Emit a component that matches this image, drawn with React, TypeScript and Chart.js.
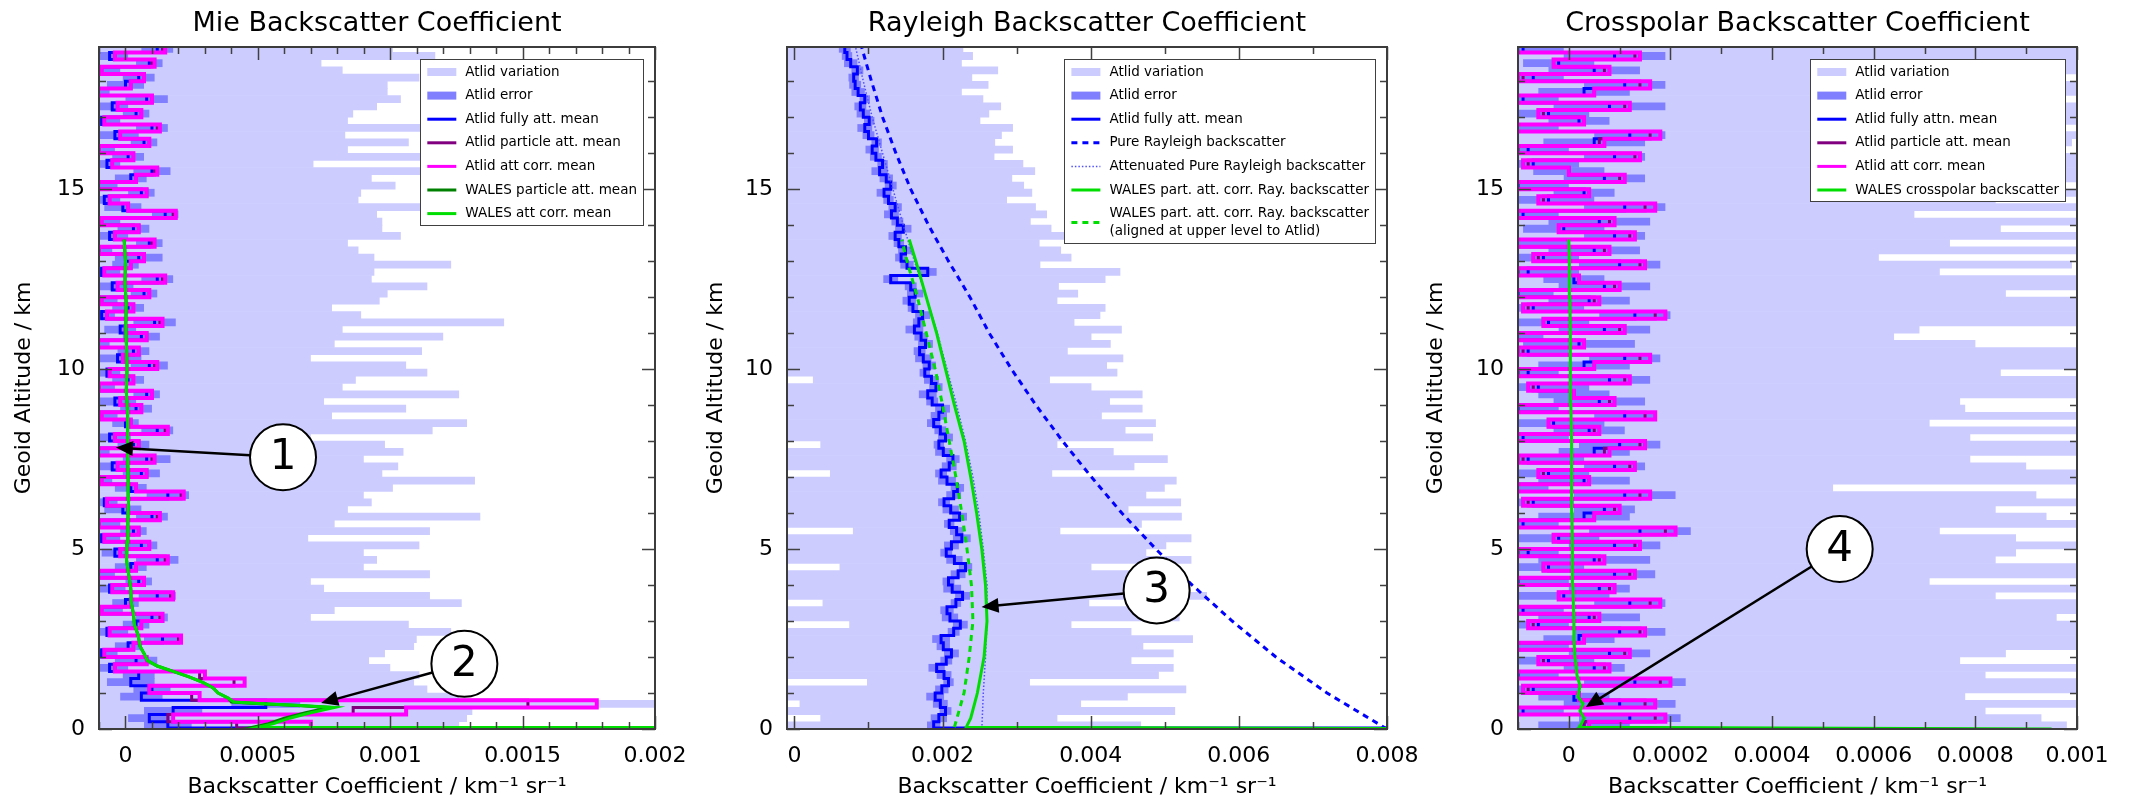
import React, { useEffect, useRef } from "react";
import { Chart, registerables } from "chart.js";

Chart.register(...registerables);

const FONT = "DejaVu Sans";
const W = 2130;
const H = 811;
const PLOT_BOTTOM = 729;

// ---------------- altitude grid (km) ----------------
const BIN_KM = 0.2;
const ALT_TOP = 19;
const Y_MAX = 18.95;
const FLOOR_ALT = 0.03;
const ALT_BINS = Array.from({ length: 95 }, (_, i) => Math.round(i * BIN_KM * 100) / 100);
const Y_TICKS = [0, 5, 10, 15];

// ---------------- Mie panel (values in 1e-4 km^-1 sr^-1) ----------------
const MIE_UNIT = 1e-4;
const MIE_X_TICKS = [0, 0.0005, 0.001, 0.0015, 0.002];
const MIE_FULL = [
  1.6, 0.9, 1.8, 5.3, 0.6, 1.0, 0.2, 0.5, -0.6, 0.4,
  -0.9, 0.1, 1.4, -0.7, 0.4, 1.0, -1.0, 0.0, 1.2, -0.6,
  0.5, -1.1, 0.2, 1.2, -0.4, 0.6, -0.9, 0.3, -1.1, 1.0,
  -0.1, -0.8, 1.6, 0.2, -1.0, 0.6, -0.5, 0.8, -1.1, 0.3,
  -0.6, 1.2, 0.0, -1.0, 0.4, -0.4, 0.8, -1.1, 0.1, -0.7,
  0.9, -0.3, 0.3, -1.1, 0.6, -0.2, 1.1, -0.9, 0.1, -1.0,
  0.7, -0.5, 1.2, -0.9, 0.0, 0.5, -1.1, 0.9, -0.6, 0.3,
  -1.0, 1.5, -0.1, -0.8, 0.6, -1.1, 0.2, 1.0, -0.7, 0.1,
  -1.1, 0.7, -0.4, 1.0, -0.9, 0.4, -0.5, 0.8, -1.1, 0.0,
  0.5, -1.0, 0.9, -0.6, 1.2,
];
const MIE_PART = [
  4.2, 1.6, 8.6, 15.2, 2.5, 0.9, 4.1, 2.8, -0.4, 0.8,
  -0.8, 0.3, 2.0, -0.6, 0.6, 1.3, -0.9, 0.2, 1.7, -0.5,
  0.7, -1.1, 0.4, 1.5, -0.2, 0.9, -0.8, 0.5, -1.0, 1.2,
  0.1, -0.7, 2.1, 0.4, -0.9, 0.8, -0.3, 1.0, -1.1, 0.5,
  -0.4, 1.5, 0.2, -0.9, 0.6, -0.2, 1.0, -1.0, 0.3, -0.6,
  1.1, -0.1, 0.5, -1.1, 0.8, 0.0, 1.3, -0.7, 0.3, -0.9,
  0.9, -0.3, 1.4, -0.8, 0.2, 0.7, -1.0, 1.0, -0.4, 0.5,
  -0.9, 1.8, 0.1, -0.6, 0.8, -1.1, 0.4, 1.1, -0.5, 0.3,
  -1.0, 0.9, -0.2, 1.2, -0.8, 0.6, -0.3, 1.0, -1.1, 0.2,
  0.7, -0.9, 1.0, -0.4, 1.4,
];
const MIE_CORR = [
  7.0, 1.8, 10.6, 17.8, 2.8, 0.9, 4.5, 3.0, -0.4, 0.8,
  -0.8, 0.3, 2.1, -0.6, 0.6, 1.4, -0.9, 0.2, 1.8, -0.5,
  0.7, -1.1, 0.4, 1.6, -0.2, 0.9, -0.8, 0.5, -1.0, 1.3,
  0.1, -0.7, 2.2, 0.4, -0.9, 0.8, -0.3, 1.1, -1.1, 0.5,
  -0.4, 1.6, 0.2, -0.9, 0.6, -0.2, 1.0, -1.0, 0.3, -0.6,
  1.2, -0.1, 0.5, -1.1, 0.8, 0.0, 1.4, -0.7, 0.3, -0.9,
  0.9, -0.3, 1.5, -0.8, 0.2, 0.7, -1.0, 1.1, -0.4, 0.5,
  -0.9, 1.9, 0.1, -0.6, 0.8, -1.1, 0.4, 1.2, -0.5, 0.3,
  -1.0, 0.9, -0.2, 1.3, -0.8, 0.6, -0.3, 1.0, -1.1, 0.2,
  0.7, -0.9, 1.1, -0.4, 1.5,
];
const MIE_VAR = [
  11.0, 12.0, 11.3, 20.0, 12.0, 10.4, 10.7, 10.6, 10.6, 8.8,
  10.7, 10.8, 9.6, 13.0, 10.3, 6.0, 8.9, 12.7, 10.3, 8.1,
  6.5, 12.6, 8.8, 8.3, 9.4, 10.5, 7.8, 11.2, 9.0, 12.4,
  8.5, 10.1, 7.4, 9.9, 14.2, 9.1, 10.8, 8.2, 11.6, 9.5,
  7.6, 10.4, 12.9, 8.8, 10.2, 7.9, 11.8, 9.3, 8.6, 12.1,
  9.7, 7.3, 10.9, 9.0, 11.4, 8.4, 13.2, 9.8, 7.7, 10.6,
  9.2, 11.9, 8.1, 10.3, 12.3, 8.9, 9.9, 7.5, 11.0, 9.4,
  10.7, 8.0, 12.6, 9.6, 8.3, 11.3, 9.1, 10.2, 7.8, 12.8,
  9.5, 10.0, 8.7, 11.5, 9.3, 8.2, 10.0, 9.6, 11.0, 9.9,
  10.6, 9.2, 6.5, 12.3, 8.9,
];
const MIE_ERR = [
  0.9, 0.8, 1.1, 1.3, 0.8, 0.7, 0.9, 0.6, 0.7, 0.8,
  0.6, 0.5, 0.7, 0.8, 0.5, 0.6, 0.9, 0.5, 0.7, 0.6,
  0.5, 0.7, 0.6, 0.8, 0.5, 0.6, 0.7, 0.5, 0.9, 0.6,
  0.7, 0.5, 0.8, 0.6, 0.5, 0.7, 0.6, 0.9, 0.5, 0.6,
  0.8, 0.6, 0.5, 0.7, 0.6, 0.8, 0.5, 0.7, 0.6, 0.5,
  0.7, 0.9, 0.6, 0.5, 0.7, 0.6, 0.8, 0.5, 0.6, 0.7,
  0.5, 0.8, 0.6, 0.7, 0.5, 0.9, 0.6, 0.5, 0.7, 0.6,
  0.8, 0.5, 0.7, 0.6, 0.5, 0.8, 0.6, 0.7, 0.5, 0.6,
  0.7, 0.5, 0.9, 0.6, 0.7, 0.5, 0.6, 0.8, 0.5, 0.7,
  0.6, 0.8, 0.5, 0.7, 0.6,
];
const MIE_FLOOR = 100;
const MIE_WALES_ALT = [
  0, 0.05, 0.15, 0.3, 0.45, 0.6, 0.65, 0.7, 0.75, 0.85,
  1.0, 1.15, 1.3, 1.45, 1.6, 1.75, 1.9, 2.1, 2.3, 2.6,
  2.9, 3.2, 3.5, 3.9, 4.3, 4.7, 5.2, 5.8, 6.4, 7.0,
  7.6, 8.2, 8.8, 9.4, 10.0, 10.6, 11.2, 11.8, 12.4, 13.0, 13.6,
];
const MIE_WALES_CORR = [
  100, 5.0, 5.6, 6.2, 7.0, 7.9, 6.6, 5.2, 4.1, 3.9,
  3.5, 3.3, 2.9, 2.4, 1.8, 1.2, 0.83, 0.7, 0.55, 0.48,
  0.34, 0.3, 0.22, 0.2, 0.12, 0.04, 0.06, 0.09, 0.12, 0.1,
  0.08, 0.09, 0.07, 0.03, 0.06, 0.04, 0.01, 0.03, -0.02, 0.0, -0.05,
];
const MIE_WALES_PART = [
  100, 4.8, 5.4, 6.0, 6.8, 7.7, 6.5, 5.1, 4.0, 3.9,
  3.5, 3.3, 2.9, 2.4, 1.8, 1.2, 0.83, 0.7, 0.55, 0.48,
  0.34, 0.3, 0.22, 0.2, 0.12, 0.04, 0.06, 0.09, 0.12, 0.1,
  0.08, 0.09, 0.07, 0.03, 0.06, 0.04, 0.01, 0.03, -0.02, 0.0, -0.05,
];

// ---------------- Rayleigh panel (values in 1e-3 km^-1 sr^-1) ----------------
const RAY_UNIT = 1e-3;
const RAY_X_TICKS = [0, 0.002, 0.004, 0.006, 0.008];
const RAY_FULL = [
  1.88, 1.95, 2.04, 1.97, 1.90, 1.99, 2.08, 2.02, 1.92, 2.05,
  2.12, 2.01, 1.98, 2.15, 2.24, 2.10, 2.06, 2.18, 2.27, 2.13,
  2.08, 2.21, 2.31, 2.16, 2.05, 2.12, 2.26, 2.19, 2.09, 2.23,
  2.11, 2.02, 2.15, 2.20, 2.06, 1.98, 2.09, 2.14, 2.01, 1.95,
  2.04, 1.97, 1.88, 1.95, 2.00, 1.86, 1.80, 1.91, 1.85, 1.76,
  1.82, 1.74, 1.69, 1.77, 1.71, 1.62, 1.68, 1.73, 1.60, 1.55,
  1.63, 1.57, 1.30, 1.80, 1.52, 1.44, 1.50, 1.41, 1.36, 1.47,
  1.39, 1.31, 1.36, 1.27, 1.21, 1.30, 1.24, 1.15, 1.19, 1.10,
  1.05, 1.11, 1.00, 0.95, 1.01, 0.93, 0.89, 0.95, 0.86, 0.82,
  0.80, 0.85, 0.76, 0.71, 0.68,
];
const RAY_VAR = [
  2.8, 1.6, 3.1, 1.9, 2.6, 3.3, 1.1, 2.9, 3.2, 2.5,
  3.0, 2.7, 3.4, 2.4, 1.5, 3.1, 2.6, 1.8, 3.3, 2.8,
  2.5, 3.0, 1.7, 3.2, 2.7, 2.9, 3.1, 1.4, 2.6, 3.0,
  2.4, 3.2, 2.6, 2.8, 3.1, 1.5, 2.5, 2.9, 2.3, 1.6,
  2.8, 2.5, 3.0, 2.2, 2.7, 2.4, 2.9, 2.1, 1.6, 2.6,
  2.4, 2.7, 2.0, 2.5, 2.3, 2.8, 2.1, 2.4, 2.6, 2.0,
  2.2, 2.0, 2.9, 2.6, 1.8, 2.3, 2.1, 1.9, 2.4, 2.0,
  1.8, 2.1, 1.9, 1.6, 2.0, 1.8, 1.7, 2.1, 1.9, 1.6,
  1.9, 1.6, 1.8, 2.0, 1.5, 1.7, 1.9, 1.6, 1.4, 1.8,
  1.6, 1.9, 1.5, 1.7, 1.6,
];
const RAY_ERR = [
  0.09, 0.11, 0.08, 0.10, 0.12, 0.09, 0.07, 0.10, 0.11, 0.08,
  0.10, 0.09, 0.12, 0.08, 0.10, 0.11, 0.09, 0.07, 0.10, 0.12,
  0.08, 0.10, 0.09, 0.11, 0.08, 0.10, 0.12, 0.09, 0.07, 0.10,
  0.11, 0.08, 0.10, 0.09, 0.12, 0.08, 0.10, 0.09, 0.11, 0.07,
  0.10, 0.08, 0.09, 0.11, 0.10, 0.08, 0.12, 0.09, 0.10, 0.07,
  0.09, 0.11, 0.08, 0.10, 0.09, 0.12, 0.08, 0.10, 0.07, 0.09,
  0.11, 0.08, 0.10, 0.12, 0.09, 0.08, 0.10, 0.07, 0.09, 0.11,
  0.08, 0.10, 0.09, 0.07, 0.10, 0.08, 0.09, 0.11, 0.07, 0.08,
  0.09, 0.07, 0.08, 0.10, 0.07, 0.09, 0.08, 0.07, 0.09, 0.08,
  0.07, 0.08, 0.09, 0.07, 0.08,
];
const RAY_FLOOR = 10;
const RAY_KM = [0, 1, 2, 3, 4, 5, 6, 7, 8, 9, 10, 11, 12, 13, 14, 15, 16, 17, 18, 19];
const RAY_PURE = [8.0, 7.19, 6.5, 5.91, 5.37, 4.88, 4.42, 4.01, 3.62, 3.26, 2.93, 2.63, 2.37, 2.08, 1.81, 1.57, 1.37, 1.19, 1.04, 0.9];
const RAY_ATT = [2.53, 2.55, 2.58, 2.6, 2.6, 2.55, 2.49, 2.41, 2.31, 2.19, 2.06, 1.93, 1.78, 1.62, 1.47, 1.33, 1.19, 1.05, 0.93, 0.82];
const WALES_RAY_ALT = [0, 0.05, 0.3, 1, 2, 3, 4, 5, 6, 7, 8, 9, 10, 11, 12, 13, 13.6];
const WALES_RAY = [10, 2.32, 2.38, 2.47, 2.56, 2.6, 2.58, 2.53, 2.46, 2.38, 2.29, 2.16, 2.04, 1.92, 1.78, 1.64, 1.55];
const WALES_RAY_ALIGNED_ALT = [0.05, 1, 2, 3, 4, 5, 6, 7, 8, 9, 10, 11, 12, 13, 13.6];
const WALES_RAY_ALIGNED = [2.16, 2.29, 2.36, 2.41, 2.39, 2.33, 2.26, 2.18, 2.09, 2.0, 1.9, 1.78, 1.66, 1.52, 1.45];

// ---------------- Crosspolar panel (values in 1e-4 km^-1 sr^-1) ----------------
const XP_UNIT = 1e-4;
const XP_X_TICKS = [0, 0.0002, 0.0004, 0.0006, 0.0008, 0.001];
const XP_FULL = [
  0.3, 1.2, -0.9, 1.0, 0.1, -0.7, 1.3, -1.0, 0.5, -0.4,
  0.8, -1.1, 0.2, 1.0, -0.6, 0.4, -0.9, 1.2, -0.1, 0.6,
  -1.0, 0.9, -0.4, 0.5, -0.8, 0.9, -0.2, 1.4, -0.9, 0.3,
  0.7, -0.7, 1.1, -1.1, 0.3, -0.4, 0.9, -0.8, 0.5, 1.0,
  -0.9, 0.4, -0.3, 1.1, -1.0, 0.6, 0.1, -0.6, 0.8, -0.8,
  0.3, 1.1, -0.8, 0.2, -1.1, 0.7, -0.4, 1.3, -0.7, 0.4,
  -1.0, 0.7, 0.1, -0.8, 1.0, -0.5, 0.5, -1.1, 0.9, -0.1,
  0.6, -0.9, 1.1, -0.4, 0.3, -1.0, 0.7, 0.0, -0.7, 0.9,
  -0.8, 0.5, 1.2, -1.1, 0.2, -0.4, 0.8, -0.9, 0.3, 1.1,
  -0.7, 0.5, -0.2, 0.9, -0.9,
];
const XP_PART = [
  0.3, 1.7, -1.1, 1.5, 0.2, -0.8, 1.8, -1.2, 0.7, -0.5,
  1.1, -1.3, 0.3, 1.4, -0.7, 0.5, -1.1, 1.6, -0.2, 0.8,
  -1.2, 1.2, -0.5, 0.6, -1.0, 1.3, -0.3, 1.9, -1.1, 0.5,
  0.9, -0.8, 1.4, -1.3, 0.4, -0.5, 1.2, -0.9, 0.7, 1.4,
  -1.1, 0.5, -0.4, 1.5, -1.2, 0.8, 0.1, -0.7, 1.1, -1.0,
  0.5, 1.4, -0.9, 0.3, -1.3, 1.0, -0.5, 1.7, -0.8, 0.5,
  -1.2, 0.9, 0.2, -1.0, 1.4, -0.6, 0.7, -1.3, 1.2, -0.2,
  0.8, -1.1, 1.5, -0.5, 0.4, -1.2, 1.0, 0.0, -0.8, 1.3,
  -1.0, 0.6, 1.6, -1.3, 0.3, -0.5, 1.1, -1.1, 0.5, 1.4,
  -0.9, 0.7, -0.3, 1.3, -1.1,
];
const XP_CORR = [
  0.4, 1.9, -1.2, 1.7, 0.2, -0.9, 2.0, -1.3, 0.8, -0.6,
  1.2, -1.4, 0.3, 1.5, -0.8, 0.6, -1.2, 1.8, -0.2, 0.9,
  -1.3, 1.3, -0.5, 0.7, -1.1, 1.4, -0.3, 2.1, -1.2, 0.5,
  1.0, -0.9, 1.6, -1.4, 0.4, -0.6, 1.3, -1.0, 0.8, 1.5,
  -1.2, 0.6, -0.4, 1.7, -1.3, 0.9, 0.1, -0.8, 1.2, -1.1,
  0.5, 1.6, -1.0, 0.3, -1.4, 1.1, -0.5, 1.9, -0.9, 0.6,
  -1.3, 1.0, 0.2, -1.1, 1.5, -0.7, 0.8, -1.4, 1.3, -0.2,
  0.9, -1.2, 1.7, -0.6, 0.4, -1.3, 1.1, 0.0, -0.9, 1.4,
  -1.1, 0.7, 1.8, -1.4, 0.3, -0.6, 1.2, -1.2, 0.5, 1.6,
  -1.0, 0.8, -0.3, 1.4, -1.2,
];
const XP_VAR = [
  9.5, 8.1, 9.1, 9.2, 7.7, 12.5, 9.4, 9.2, 12.5, 8.1,
  7.8, 12.5, 12.5, 10.6, 12.5, 9.2, 12.5, 9.2, 8.5, 12.5,
  8.1, 12.5, 10.5, 7.9, 9.6, 12.5, 9.0, 5.9, 12.5, 9.1,
  7.7, 12.5, 8.1, 6.3, 12.5, 10.4, 8.1, 8.7, 9.5, 12.5,
  8.8, 12.5, 7.4, 12.5, 8.8, 7.1, 12.5, 10.6, 12.5, 9.3,
  12.5, 10.7, 12.5, 7.8, 7.5, 6.2, 12.5, 10.5, 12.5, 12.5,
  9.6, 12.5, 12.5, 8.1, 8.9, 6.6, 12.5, 8.6, 12.5, 8.6,
  12.5, 7.7, 9.9, 8.8, 12.5, 10.5, 9.6, 12.5, 12.5, 9.5,
  9.7, 9.4, 12.5, 9.6, 12.5, 12.5, 10.6, 9.7, 12.5, 9.5,
  9.6, 12.5, 12.5, 12.5, 12.5,
];
const XP_ERR = [
  0.9, 1.0, 0.8, 1.1, 0.7, 0.9, 1.0, 0.8, 0.6, 0.9,
  0.8, 1.1, 0.7, 0.9, 0.6, 1.0, 0.8, 0.7, 0.9, 0.6,
  1.0, 0.8, 0.7, 1.1, 0.6, 0.9, 0.8, 1.0, 0.7, 0.9,
  0.6, 0.8, 1.0, 0.7, 0.9, 0.8, 0.6, 1.1, 0.7, 0.8,
  0.9, 0.7, 1.0, 0.6, 0.8, 0.9, 0.7, 1.0, 0.8, 0.6,
  0.9, 0.7, 0.8, 1.1, 0.6, 0.9, 0.8, 0.7, 1.0, 0.8,
  0.7, 0.9, 0.6, 1.0, 0.8, 0.7, 0.9, 1.1, 0.6, 0.8,
  1.0, 0.7, 0.8, 0.9, 0.6, 1.0, 0.8, 0.7, 0.9, 0.6,
  0.8, 1.0, 0.7, 0.9, 0.6, 0.8, 1.1, 0.7, 0.9, 0.8,
  0.6, 0.9, 0.7, 1.0, 0.8,
];
const XP_WALES_ALT = [0, 0.05, 0.15, 0.3, 0.5, 0.7, 0.9, 1.2, 1.5, 1.8, 2.0, 2.5, 3.0, 4.0, 5.0, 6.0, 7.0, 8.0, 9.0, 10.0, 11.0, 12.0, 13.0, 13.6];
const XP_WALES = [9.5, 0.2, 0.25, 0.3, 0.22, 0.28, 0.18, 0.22, 0.16, 0.14, 0.12, 0.1, 0.1, 0.08, 0.07, 0.06, 0.06, 0.05, 0.04, 0.03, 0.03, 0.02, 0.01, 0.0];

// ---------------- text ----------------
const X_TITLE = "Backscatter Coefficient / km\u207B\u00B9 sr\u207B\u00B9";
const Y_TITLE = "Geoid Altitude / km";

// ---------------- styles ----------------
const C_VAR = "#ccccff";
const C_ERR = "#8080ff";
const C_BLUE = "#0000ff";
const C_PURPLE = "#800080";
const C_MAGENTA = "#ff00ff";
const C_DGREEN = "#008000";
const C_GREEN = "#00dd00";

// ---------------- dataset builders ----------------
function bandBars(label: string, center: number[], half: number[], unit: number, color: string) {
  return {
    type: "bar",
    label,
    data: center.map((c, i) => ({ y: ALT_BINS[i] + BIN_KM / 2, x: [(c - half[i]) * unit, (c + half[i]) * unit] })),
    backgroundColor: color,
    borderWidth: 0,
    inflateAmount: 0,
    grouped: false,
    categoryPercentage: 1,
    barPercentage: 1.08,
  };
}

function stepLine(label: string, values: number[], unit: number, floor: number | null, color: string, width: number) {
  const pts: { x: number; y: number }[] = [];
  if (floor !== null) pts.push({ x: floor * unit, y: 0 });
  values.forEach((v, i) => pts.push({ x: v * unit, y: i === 0 && floor !== null ? FLOOR_ALT : ALT_BINS[i] }));
  pts.push({ x: values[values.length - 1] * unit, y: ALT_TOP });
  return {
    type: "line",
    label,
    data: pts,
    borderColor: color,
    backgroundColor: color,
    borderWidth: width,
    pointRadius: 0,
    stepped: "after",
    borderJoinStyle: "miter",
    fill: false,
  };
}

function curve(label: string, alts: number[], values: number[], unit: number, color: string, width: number, dash: number[] = []) {
  return {
    type: "line",
    label,
    data: alts.map((a, i) => ({ x: values[i] * unit, y: a })),
    borderColor: color,
    backgroundColor: color,
    borderWidth: width,
    borderDash: dash,
    pointRadius: 0,
    tension: 0,
    fill: false,
  };
}

type Note = { text: string; x: number; y: number; tipX: number; tipY: number };

type PanelSpec = {
  title: string;
  xMin: number;
  xMax: number;
  xTicks: number[];
  xMinorStep: number;
  xMajorStep: number;
  boxLeft: number;
  yAxisWidth: number;
  plotRight: number;
  yTitlePad: number;
  datasets: any[];
  legend: string[];
  notes: Note[];
};

const PANELS: PanelSpec[] = [
  {
    title: "Mie Backscatter Coefficient",
    xMin: -0.0001,
    xMax: 0.002,
    xTicks: MIE_X_TICKS,
    xMinorStep: 0.0001,
    xMajorStep: 0.0005,
    boxLeft: 0,
    yAxisWidth: 99,
    plotRight: 655,
    yTitlePad: 10.8,
    datasets: [
      curve("WALES att corr. mean", MIE_WALES_ALT, MIE_WALES_CORR, MIE_UNIT, C_GREEN, 3),
      curve("WALES particle att. mean", MIE_WALES_ALT, MIE_WALES_PART, MIE_UNIT, C_DGREEN, 3),
      stepLine("Atlid att corr. mean", MIE_CORR, MIE_UNIT, MIE_FLOOR, C_MAGENTA, 4),
      stepLine("Atlid particle att. mean", MIE_PART, MIE_UNIT, MIE_FLOOR, C_PURPLE, 3),
      stepLine("Atlid fully att. mean", MIE_FULL, MIE_UNIT, MIE_FLOOR, C_BLUE, 3),
      bandBars("Atlid error", MIE_FULL, MIE_ERR, MIE_UNIT, C_ERR),
      bandBars("Atlid variation", MIE_FULL, MIE_VAR, MIE_UNIT, C_VAR),
    ],
    legend: [
      "Atlid variation",
      "Atlid error",
      "Atlid fully att. mean",
      "Atlid particle att. mean",
      "Atlid att corr. mean",
      "WALES particle att. mean",
      "WALES att corr. mean",
    ],
    notes: [
      { text: "1", x: 0.000595, y: 7.55, tipX: -0.000036, tipY: 7.82 },
      { text: "2", x: 0.00128, y: 1.81, tipX: 0.000739, tipY: 0.72 },
    ],
  },
  {
    title: "Rayleigh Backscatter Coefficient",
    xMin: -0.0001,
    xMax: 0.008,
    xTicks: RAY_X_TICKS,
    xMinorStep: 0.001,
    xMajorStep: 0.002,
    boxLeft: 690,
    yAxisWidth: 97,
    plotRight: 1387,
    yTitlePad: 12.8,
    datasets: [
      curve("WALES part. att. corr. Ray. backscatter", WALES_RAY_ALT, WALES_RAY, RAY_UNIT, C_GREEN, 3),
      curve("WALES part. att. corr. Ray. backscatter\n(aligned at upper level to Atlid)", WALES_RAY_ALIGNED_ALT, WALES_RAY_ALIGNED, RAY_UNIT, C_GREEN, 3, [6, 5]),
      curve("Attenuated Pure Rayleigh backscatter", RAY_KM, RAY_ATT, RAY_UNIT, "#5050ff", 1.5, [1.5, 2]),
      curve("Pure Rayleigh backscatter", RAY_KM, RAY_PURE, RAY_UNIT, C_BLUE, 3, [6, 5]),
      stepLine("Atlid fully att. mean", RAY_FULL, RAY_UNIT, RAY_FLOOR, C_BLUE, 3),
      bandBars("Atlid error", RAY_FULL, RAY_ERR, RAY_UNIT, C_ERR),
      bandBars("Atlid variation", RAY_FULL, RAY_VAR, RAY_UNIT, C_VAR),
    ],
    legend: [
      "Atlid variation",
      "Atlid error",
      "Atlid fully att. mean",
      "Pure Rayleigh backscatter",
      "Attenuated Pure Rayleigh backscatter",
      "WALES part. att. corr. Ray. backscatter",
      "WALES part. att. corr. Ray. backscatter\n(aligned at upper level to Atlid)",
    ],
    notes: [{ text: "3", x: 0.00489, y: 3.85, tipX: 0.002527, tipY: 3.39 }],
  },
  {
    title: "Crosspolar Backscatter Coefficient",
    xMin: -0.0001,
    xMax: 0.001,
    xTicks: XP_X_TICKS,
    xMinorStep: 0.0001,
    xMajorStep: 0.0002,
    boxLeft: 1410,
    yAxisWidth: 108,
    plotRight: 2077,
    yTitlePad: 12.8,
    datasets: [
      curve("WALES crosspolar backscatter", XP_WALES_ALT, XP_WALES, XP_UNIT, C_GREEN, 3),
      stepLine("Atlid att corr. mean", XP_CORR, XP_UNIT, null, C_MAGENTA, 4),
      stepLine("Atlid particle att. mean", XP_PART, XP_UNIT, null, C_PURPLE, 3),
      stepLine("Atlid fully attn. mean", XP_FULL, XP_UNIT, null, C_BLUE, 3),
      bandBars("Atlid error", XP_FULL, XP_ERR, XP_UNIT, C_ERR),
      bandBars("Atlid variation", XP_FULL, XP_VAR, XP_UNIT, C_VAR),
    ],
    legend: [
      "Atlid variation",
      "Atlid error",
      "Atlid fully attn. mean",
      "Atlid particle att. mean",
      "Atlid att corr. mean",
      "WALES crosspolar backscatter",
    ],
    notes: [{ text: "4", x: 0.000533, y: 5.0, tipX: 0.0000335, tipY: 0.61 }],
  },
];

// ---------------- overlay plugin: frame, inside ticks, legend, notes ----------------
const overlayPlugin = {
  id: "overlay",
  afterDatasetsDraw(chart: any, _args: any, opts: any) {
    const ctx: CanvasRenderingContext2D = chart.ctx;
    const a = chart.chartArea;
    const xs = chart.scales.x;
    const ys = chart.scales.y;
    ctx.save();

    // inside tick marks on all four sides
    ctx.strokeStyle = "#404040";
    ctx.lineWidth = 1.5;
    ctx.beginPath();
    const n0 = Math.ceil(xs.min / opts.xMinorStep - 1e-6);
    const n1 = Math.floor(xs.max / opts.xMinorStep + 1e-6);
    for (let n = n0; n <= n1; n++) {
      const v = n * opts.xMinorStep;
      const r = v / opts.xMajorStep;
      const major = Math.abs(r - Math.round(r)) < 1e-6;
      const len = major ? 13 : 7;
      const px = Math.round(xs.getPixelForValue(v)) + 0.5;
      ctx.moveTo(px, a.bottom);
      ctx.lineTo(px, a.bottom - len);
      ctx.moveTo(px, a.top);
      ctx.lineTo(px, a.top + len);
    }
    for (let k = 0; k <= Math.floor(ys.max); k++) {
      const len = k % 5 === 0 ? 13 : 7;
      const py = Math.round(ys.getPixelForValue(k)) + 0.5;
      ctx.moveTo(a.left, py);
      ctx.lineTo(a.left + len, py);
      ctx.moveTo(a.right, py);
      ctx.lineTo(a.right - len, py);
    }
    ctx.stroke();
    ctx.lineWidth = 2;
    ctx.strokeStyle = "#3c3c3c";
    ctx.strokeRect(a.left, a.top, a.right - a.left, a.bottom - a.top);

    // legend
    const items = opts.legend.map((lab: string) => chart.data.datasets.find((d: any) => d.label === lab));
    ctx.font = `13.5px "${FONT}"`;
    const lines = items.map((d: any) => String(d.label).split("\n"));
    let textW = 0;
    lines.forEach((ls: string[]) => ls.forEach((t) => (textW = Math.max(textW, ctx.measureText(t).width))));
    const boxW = 45 + textW + 6;
    const left = a.right - 12 - boxW;
    const top = a.top + 12;
    const rows: { d: any; ls: string[]; y: number }[] = [];
    let y = top + 13;
    items.forEach((d: any, i: number) => {
      rows.push({ d, ls: lines[i], y });
      y += 23.6 + (lines[i].length - 1) * 18;
    });
    const last = rows[rows.length - 1];
    const bottom = last.y + (last.ls.length - 1) * 18 + 11.5;
    ctx.fillStyle = "#ffffff";
    ctx.fillRect(left, top, boxW, bottom - top);
    ctx.lineWidth = 1;
    ctx.strokeStyle = "#404040";
    ctx.strokeRect(Math.round(left) + 0.5, Math.round(top) + 0.5, Math.round(boxW), Math.round(bottom - top));
    rows.forEach((r) => {
      const cy = r.y + ((r.ls.length - 1) * 18) / 2;
      if (r.d.type === "bar") {
        ctx.fillStyle = r.d.backgroundColor;
        ctx.fillRect(left + 7, cy - 4, 29, 8);
      } else {
        ctx.strokeStyle = r.d.borderColor;
        ctx.lineWidth = Math.min(r.d.borderWidth, 3);
        ctx.setLineDash(r.d.borderDash || []);
        ctx.beginPath();
        ctx.moveTo(left + 7, cy);
        ctx.lineTo(left + 36, cy);
        ctx.stroke();
        ctx.setLineDash([]);
      }
      ctx.fillStyle = "#000";
      ctx.textAlign = "left";
      ctx.textBaseline = "middle";
      r.ls.forEach((t, j) => ctx.fillText(t, left + 45, r.y + j * 18));
    });

    // numbered annotations
    opts.notes.forEach((n: Note) => {
      const cx = xs.getPixelForValue(n.x);
      const cy = ys.getPixelForValue(n.y);
      const tx = xs.getPixelForValue(n.tipX);
      const ty = ys.getPixelForValue(n.tipY);
      const rad = 33;
      const dx = tx - cx;
      const dy = ty - cy;
      const L = Math.hypot(dx, dy);
      const ux = dx / L;
      const uy = dy / L;
      const head = 17;
      const hw = 7.5;
      const bx = tx - ux * head;
      const by = ty - uy * head;
      ctx.strokeStyle = "#000";
      ctx.fillStyle = "#000";
      ctx.lineWidth = 2.5;
      ctx.beginPath();
      ctx.moveTo(cx + ux * rad, cy + uy * rad);
      ctx.lineTo(bx + ux * 2, by + uy * 2);
      ctx.stroke();
      ctx.beginPath();
      ctx.moveTo(tx, ty);
      ctx.lineTo(bx - uy * hw, by + ux * hw);
      ctx.lineTo(bx + uy * hw, by - ux * hw);
      ctx.closePath();
      ctx.fill();
      ctx.beginPath();
      ctx.arc(cx, cy, rad, 0, Math.PI * 2);
      ctx.fillStyle = "#fff";
      ctx.fill();
      ctx.lineWidth = 2;
      ctx.stroke();
      ctx.fillStyle = "#000";
      ctx.font = `42px "${FONT}"`;
      ctx.textAlign = "center";
      ctx.textBaseline = "middle";
      ctx.fillText(n.text, cx, cy + 1);
    });
    ctx.restore();
  },
};

function buildConfig(s: PanelSpec): any {
  const tickFont = { family: FONT, size: 22 };
  return {
    type: "bar",
    data: { datasets: s.datasets },
    options: {
      animation: false,
      responsive: false,
      devicePixelRatio: 1,
      indexAxis: "y",
      events: [],
      layout: { padding: { left: s.boxLeft, right: W - s.plotRight, top: 0, bottom: 0 } },
      plugins: {
        legend: { display: false },
        tooltip: { enabled: false },
        title: {
          display: true,
          text: s.title,
          fullSize: false,
          color: "#000",
          font: { family: FONT, size: 27, weight: "normal" },
          padding: { top: 8.2, bottom: 6.4 },
        },
        overlay: {
          xMinorStep: s.xMinorStep,
          xMajorStep: s.xMajorStep,
          legend: s.legend,
          notes: s.notes,
        },
      },
      scales: {
        x: {
          type: "linear",
          position: "bottom",
          min: s.xMin,
          max: s.xMax,
          offset: false,
          grid: { display: false, drawTicks: false },
          border: { display: false },
          ticks: {
            autoSkip: false,
            maxRotation: 0,
            color: "#000",
            font: tickFont,
            padding: 14,
            callback: (v: number) => String(v),
          },
          afterBuildTicks: (sc: any) => {
            sc.ticks = s.xTicks.map((v) => ({ value: v }));
          },
          afterFit: (sc: any) => {
            sc.height = H - PLOT_BOTTOM;
          },
          title: {
            display: true,
            text: X_TITLE,
            color: "#000",
            font: { family: FONT, size: 22 },
            padding: { top: 0, bottom: 11 },
          },
        },
        y: {
          type: "linear",
          position: "left",
          min: 0,
          max: Y_MAX,
          offset: false,
          grid: { display: false, drawTicks: false, offset: false },
          border: { display: false },
          ticks: {
            autoSkip: false,
            color: "#000",
            font: tickFont,
            padding: 14,
            callback: (v: number) => String(v),
          },
          afterBuildTicks: (sc: any) => {
            sc.ticks = Y_TICKS.map((v) => ({ value: v }));
          },
          afterFit: (sc: any) => {
            sc.width = s.yAxisWidth;
          },
          title: {
            display: true,
            text: Y_TITLE,
            color: "#000",
            font: { family: FONT, size: 22 },
            padding: { top: s.yTitlePad, bottom: 0 },
          },
        },
      },
    },
    plugins: [overlayPlugin],
  };
}

function Panel({ spec }: { spec: PanelSpec }) {
  const ref = useRef<HTMLCanvasElement>(null);
  useEffect(() => {
    const chart = new Chart(ref.current as HTMLCanvasElement, buildConfig(spec));
    return () => chart.destroy();
  }, [spec]);
  return (
    <canvas
      ref={ref}
      width={W}
      height={H}
      style={{ position: "absolute", left: 0, top: 0, width: W, height: H }}
    />
  );
}

export default function App() {
  return (
    <div style={{ position: "fixed", left: 0, top: 0, width: W, height: H, background: "#ffffff", overflow: "hidden" }}>
      {PANELS.map((p, i) => (
        <Panel key={i} spec={p} />
      ))}
    </div>
  );
}
